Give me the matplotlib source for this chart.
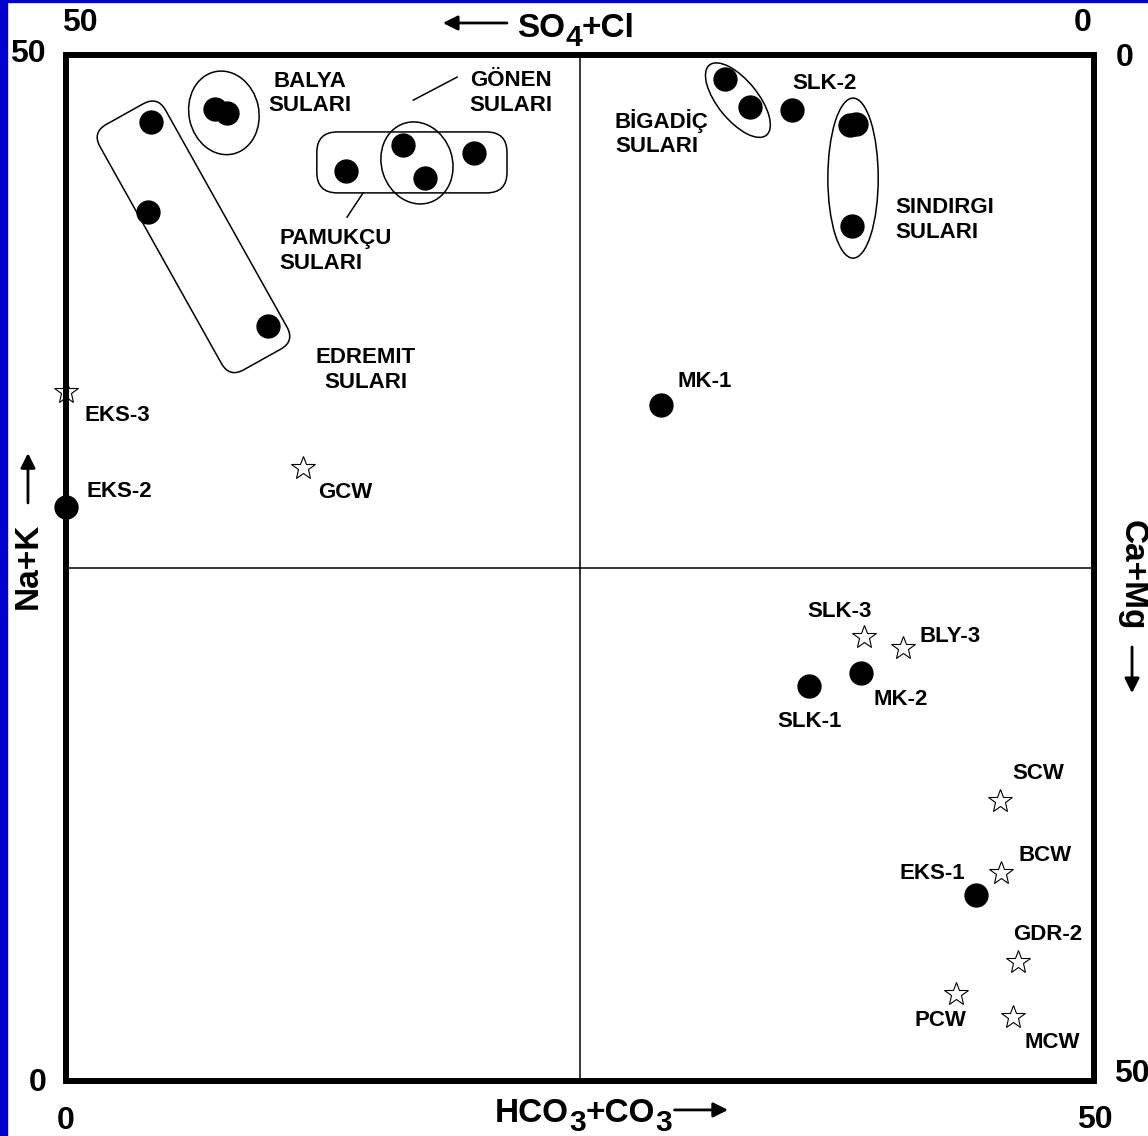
import matplotlib
matplotlib.use("Agg")
import matplotlib.pyplot as plt
from matplotlib.patches import Ellipse, FancyBboxPatch, Rectangle
from matplotlib.transforms import Affine2D, offset_copy

plt.rcParams['font.family'] = ['Liberation Sans', 'DejaVu Sans']
plt.rcParams['font.weight'] = 'bold'

# thermal waters (filled circles): HCO3+CO3 (x), Na+K (y)
circle_names = ['', '', '',            # Edremit
                '', '',                # Balya
                '', '',                # Pamukcu
                '', '',                # Gonen
                '', '',                # Bigadic
                'SLK-2',
                '', '', '',            # Sindirgi
                'MK-1', 'EKS-2', 'SLK-1', 'MK-2', 'EKS-1']
circle_x = [4.13, 3.99, 9.82,
            7.25, 7.83,
            13.62, 19.84,
            16.39, 17.46,
            32.05, 33.27,
            35.31,
            38.13, 38.42, 38.23,
            28.94, 0.0, 36.14, 38.67, 44.26]
circle_y = [46.73, 42.35, 36.80,
            47.37, 47.17,
            44.35, 45.22,
            45.61, 44.00,
            48.83, 47.47,
            47.32,
            46.59, 46.64, 41.67,
            32.94, 27.97, 19.25, 19.88, 9.06]

# cold waters (open stars)
star_names = ['EKS-3', 'GCW', 'SLK-3', 'BLY-3', 'SCW', 'BCW', 'GDR-2', 'PCW', 'MCW']
star_x = [0.0, 11.53, 38.81, 40.71, 45.43, 45.48, 46.30, 43.29, 46.06]
star_y = [33.58, 29.87, 21.64, 21.10, 13.65, 10.14, 5.80, 4.24, 3.12]

# label placement (pixel offsets from the point)
label_pos = {
    'SLK-2': (0, 26, 'left'), 'MK-1': (16, 24, 'left'), 'EKS-2': (21, 16, 'left'),
    'SLK-1': (0, -36, 'center'), 'MK-2': (12, -26, 'left'), 'EKS-1': (-11, 22, 'right'),
    'EKS-3': (19, -24, 'left'), 'GCW': (15, -24, 'left'), 'SLK-3': (-24, 25, 'center'),
    'BLY-3': (17, 12, 'left'), 'SCW': (12, 27, 'left'), 'BCW': (17, 17, 'left'),
    'GDR-2': (-5, 27, 'left'), 'PCW': (-16, -27, 'center'), 'MCW': (12, -26, 'left'),
}

fig = plt.figure(figsize=(11.48, 11.36), dpi=100)
ax = fig.add_axes([66 / 1148, 55 / 1136, 1028 / 1148, 1026 / 1136])
ax.set_xlim(0, 50)
ax.set_ylim(0, 50)
ax.set_xticks([])
ax.set_yticks([])
for s in ax.spines.values():
    s.set_linewidth(4.3)

# blue frame on left/top edge
fig.patches.append(Rectangle((0, 0), 7 / 1148, 1, transform=fig.transFigure, color='#0000CC', zorder=0))
fig.patches.append(Rectangle((0, 1 - 2 / 1136), 1, 2 / 1136, transform=fig.transFigure, color='#0000CC', zorder=0))

ax.axvline(25, color='k', lw=1.1)
ax.axhline(25, color='k', lw=1.1)

ax.plot(circle_x, circle_y, 'o', ms=16.5, color='k', clip_on=False, zorder=4)
ax.plot(star_x, star_y, '*', ms=18, mfc='white', mec='k', mew=0.8, clip_on=False, zorder=2)

fs = 16
for names, xs, ys in [(circle_names, circle_x, circle_y), (star_names, star_x, star_y)]:
    for n, x, y in zip(names, xs, ys):
        if not n:
            continue
        dx, dy, ha = label_pos[n]
        ax.annotate(n, (x, y), xytext=(dx, dy), textcoords='offset pixels',
                    ha=ha, va='center', fontsize=fs, fontweight='bold')

# group enclosures
lw = 1.1
cx, cy, w, h = 6.2, 41.14, 3.65, 13.7
edremit = FancyBboxPatch((cx - w / 2, cy - h / 2), w, h, boxstyle='round,pad=0,rounding_size=0.8',
                         fc='none', ec='k', lw=lw,
                         transform=Affine2D().rotate_deg_around(cx, cy, 29.2) + ax.transData)
ax.add_patch(edremit)
ax.add_patch(FancyBboxPatch((12.2, 43.28), 9.25, 2.97, boxstyle='round,pad=0,rounding_size=1.0',
                            fc='none', ec='k', lw=lw))
ax.add_patch(Ellipse((7.68, 47.18), 3.4, 4.1, angle=12, fc='none', ec='k', lw=lw))
ax.add_patch(Ellipse((17.07, 44.74), 3.45, 4.05, angle=18, fc='none', ec='k', lw=lw))
ax.add_patch(Ellipse((32.68, 47.8), 4.4, 1.95, angle=-51, fc='none', ec='k', lw=lw))
ax.add_patch(Ellipse((38.28, 44.0), 2.45, 7.8, angle=0, fc='none', ec='k', lw=lw))
ax.plot([16.89, 19.02], [47.8, 48.92], color='k', lw=lw)
ax.plot([13.67, 14.45], [42.1, 43.28], color='k', lw=lw)

ax.text(11.87, 48.13, 'BALYA\nSULARI', ha='center', va='center', fontsize=fs, linespacing=1.2)
ax.text(21.65, 48.15, 'GÖNEN\nSULARI', ha='center', va='center', fontsize=fs, linespacing=1.2)
ax.text(10.36, 40.45, 'PAMUKÇU\nSULARI', ha='left', va='center', fontsize=fs, linespacing=1.2)
ax.text(14.59, 34.65, 'EDREMIT\nSULARI', ha='center', va='center', fontsize=fs, linespacing=1.2)
ax.text(26.70, 46.2, 'BİGADİÇ\nSULARI', ha='left', va='center', fontsize=fs, linespacing=1.2)
ax.text(40.32, 41.96, 'SINDIRGI\nSULARI', ha='left', va='center', fontsize=fs, linespacing=1.2)

# corner scale values
big = 23
ax.text(0.68, 51.56, '50', ha='center', va='center', fontsize=big)
ax.text(-1.85, 50.05, '50', ha='center', va='center', fontsize=big)
ax.text(49.46, 51.56, '0', ha='center', va='center', fontsize=big)
ax.text(51.5, 49.85, '0', ha='center', va='center', fontsize=big)
ax.text(-1.36, -0.1, '0', ha='center', va='center', fontsize=big)
ax.text(0.0, -1.95, '0', ha='center', va='center', fontsize=big)
ax.text(50.05, -1.9, '50', ha='center', va='center', fontsize=big)
ax.text(50.95, 0.34, '50', ha='left', va='center', fontsize=big)

title_fs = 24


def chem_label(x, y, parts):
    # draw text pieces side by side, subscripts nearly full size and lowered
    r = fig.canvas.get_renderer()
    off = 0
    for s, sub in parts:
        tr = offset_copy(ax.transData, x=off, y=-9 if sub else 0, units='dots')
        t = ax.text(x, y, s, transform=tr, fontsize=title_fs * (0.9 if sub else 1),
                    ha='left', va='baseline')
        off += t.get_window_extent(r).width


# axis titles with arrows
chem_label(21.94, 50.88, [('SO', False), ('4', True), ('+Cl', False)])
chem_label(20.87, -2.0, [('HCO', False), ('3', True), ('+CO', False), ('3', True)])
ax.text(-1.85, 25.1, 'Na+K', ha='center', va='center', rotation=90, fontsize=title_fs)
ax.text(51.85, 24.65, 'Ca+Mg', ha='center', va='center', rotation=-90, fontsize=title_fs)
arr = dict(arrowstyle='-|>', lw=2, color='k', mutation_scale=22, shrinkA=0, shrinkB=0)
ax.annotate('', xy=(18.33, 51.56), xytext=(21.45, 51.56), arrowprops=arr, annotation_clip=False)
ax.annotate('', xy=(32.2, -1.41), xytext=(29.6, -1.41), arrowprops=arr, annotation_clip=False)
ax.annotate('', xy=(-1.85, 30.6), xytext=(-1.85, 28.17), arrowprops=arr, annotation_clip=False)
ax.annotate('', xy=(51.85, 18.9), xytext=(51.85, 21.15), arrowprops=arr, annotation_clip=False)

fig.savefig('out.png', dpi=100)
